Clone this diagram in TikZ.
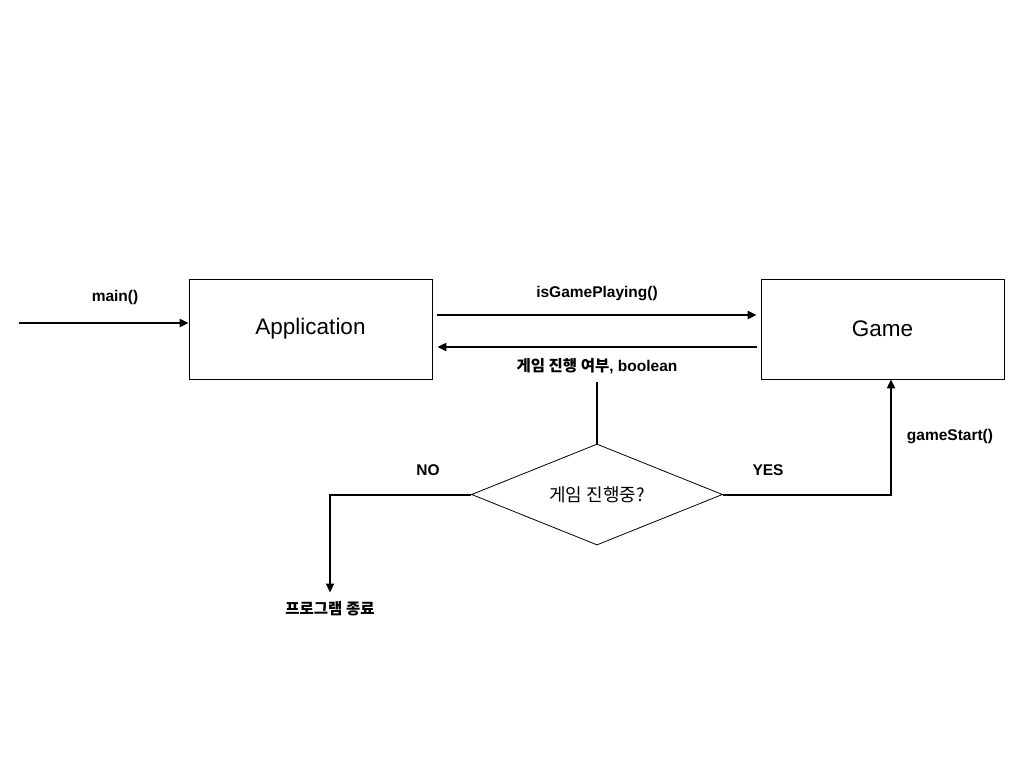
\documentclass[tikz,border=0pt]{standalone}
\usepackage{fontspec}
\setmainfont{Liberation Sans}
\newfontfamily\krfont{Noto Sans CJK KR}
\usetikzlibrary{shapes.geometric,arrows.meta}
\tikzset{
  box/.style={draw,line width=0.8pt,minimum width=243pt,minimum height=100pt,inner sep=0pt,font=\fontsize{22.5}{26}\selectfont},
  lbl/.style={font=\fontsize{15.5}{18}\selectfont\bfseries,inner sep=0pt},
  krlbl/.style={font=\fontsize{15.5}{18}\selectfont\krfont\bfseries,inner sep=0pt},
  arr/.style={line width=2pt,-{Triangle[length=9pt,width=8pt]}},
  conn/.style={line width=2pt},
  dec/.style={draw,diamond,line width=0.8pt,minimum width=251pt,minimum height=101pt,inner sep=0pt,aspect=2.5,font=\fontsize{18}{21}\selectfont\krfont}
}
\begin{document}
\begin{tikzpicture}[x=1pt,y=-1pt]
\useasboundingbox (0,0) rectangle (1024,768);
\node[box] (app) at (310.5,329) {Application};
\node[box] (game) at (882.5,329) {Game};
\node[dec] (dc) at (597,494.5) {게임 진행중?};
\node[lbl] (lmain) at (115,297) {main()};
\node[lbl] (lplay) at (597,294) {isGamePlaying()};
\node[lbl] (ret) at (597,366) {{\krfont 게임 진행 여부}, boolean};
\node[lbl] (lno) at (428,470) {NO};
\node[lbl] (lyes) at (768,470) {YES};
\node[lbl] (lstart) at (950,437) {gameStart()};
\node[krlbl] (fin) at (330,609) {프로그램 종료};
\coordinate (mstart) at (19,323);
\draw[arr] (mstart) -- (mstart -| app.west);
\draw[arr] ([xshift=5pt,yshift=14pt]app.east) -- ([xshift=-4pt,yshift=14pt]game.west);
\draw[arr] ([xshift=-4pt,yshift=-18pt]game.west) -- ([xshift=5pt,yshift=-18pt]app.east);
\draw[conn] ([yshift=-8pt]ret.south) -- (dc.north);
\draw[arr] (dc.west) -| ([yshift=9pt]fin.north);
\draw[arr] (dc.east) -| ([xshift=8.5pt]game.south);
\end{tikzpicture}
\end{document}
